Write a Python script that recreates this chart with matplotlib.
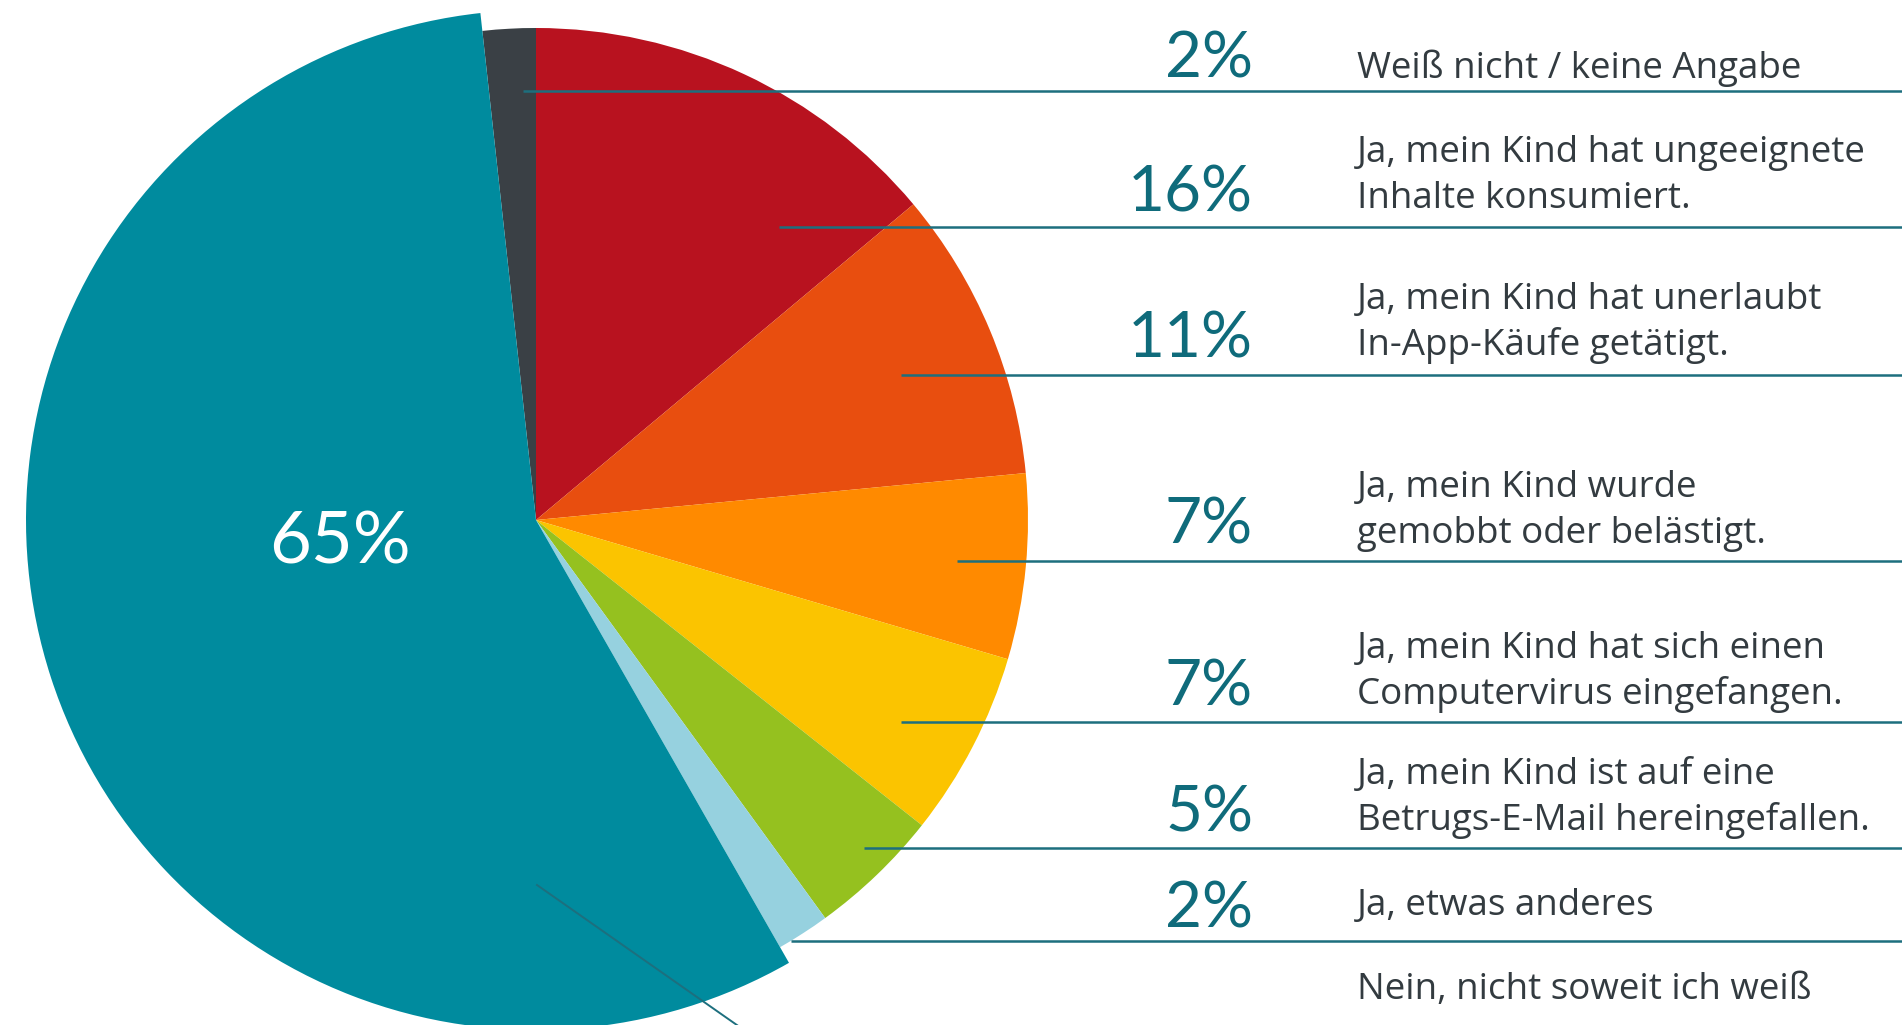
import matplotlib.pyplot as plt

# Daten (Reihenfolge im Uhrzeigersinn, "Weiß nicht" endet bei 12 Uhr)
werte = [2, 16, 11, 7, 7, 5, 2, 65]
prozent = ['2%', '16%', '11%', '7%', '7%', '5%', '2%', '']
antworten = [
    'Weiß nicht / keine Angabe',
    'Ja, mein Kind hat ungeeignete\nInhalte konsumiert.',
    'Ja, mein Kind hat unerlaubt\nIn-App-Käufe getätigt.',
    'Ja, mein Kind wurde\ngemobbt oder belästigt.',
    'Ja, mein Kind hat sich einen\nComputervirus eingefangen.',
    'Ja, mein Kind ist auf eine\nBetrugs-E-Mail hereingefallen.',
    'Ja, etwas anderes',
    'Nein, nicht soweit ich weiß',
]
farben = ['#3a4045', '#b8121f', '#e84e0f', '#ff8a00', '#fbc400',
          '#95c11f', '#96d1df', '#008b9e']

W, H = 1902, 1025
linie = '#1d6f7e'
textfarbe = '#333b40'
pfarbe = '#0f6b7b'

fig = plt.figure(figsize=(W / 100, H / 100), dpi=100)
ax = fig.add_axes([0, 0, 1, 1])

cx, cy = 536, H - 520
start = 90 + 360 * werte[0] / sum(werte)
wedges, _ = ax.pie(werte, colors=farben, startangle=start, counterclock=False,
                   center=(cx, cy), radius=492, frame=True,
                   wedgeprops=dict(linewidth=0))
wedges[-1].set_radius(510)

ax.text(340, H - 543, '65%', color='white', fontsize=52, family='Lato',
        ha='center', va='center')

# Führungslinien (Startpunkt im Segment, y der Linie)
start_x = [523, 779, 901, 957, 901, 864, 791]
linie_y = [91, 227, 375, 561, 722, 848, 941]
for sx, ly in zip(start_x, linie_y):
    ax.plot([sx, W], [H - ly, H - ly], color=linie, lw=1.8,
            solid_capstyle='butt', zorder=3)
ax.plot([537, 744], [H - 885, H - 1025 - 5], color=linie, lw=1.4, zorder=3)

# Beschriftungen
p_basis = [78, 211, 358, 543, 706, 831, 927, 999]
t_basis = [78, 208, 355, 543, 704, 830, 915, 999]
for p, t, pb, tb in zip(prozent, antworten, p_basis, t_basis):
    if p:
        ax.text(1253, H - pb, p, color=pfarbe, fontsize=46, family='Lato',
                ha='right', va='baseline')
    zeilen = t.split('\n')
    for i, z in enumerate(zeilen):
        y = tb - (len(zeilen) - 1 - i) * 46
        ax.text(1357, H - y, z, color=textfarbe, fontsize=26.5,
                family='Open Sans', ha='left', va='baseline')

ax.set_xlim(0, W)
ax.set_ylim(0, H)
ax.axis('off')
fig.savefig('out.png', dpi=100)
